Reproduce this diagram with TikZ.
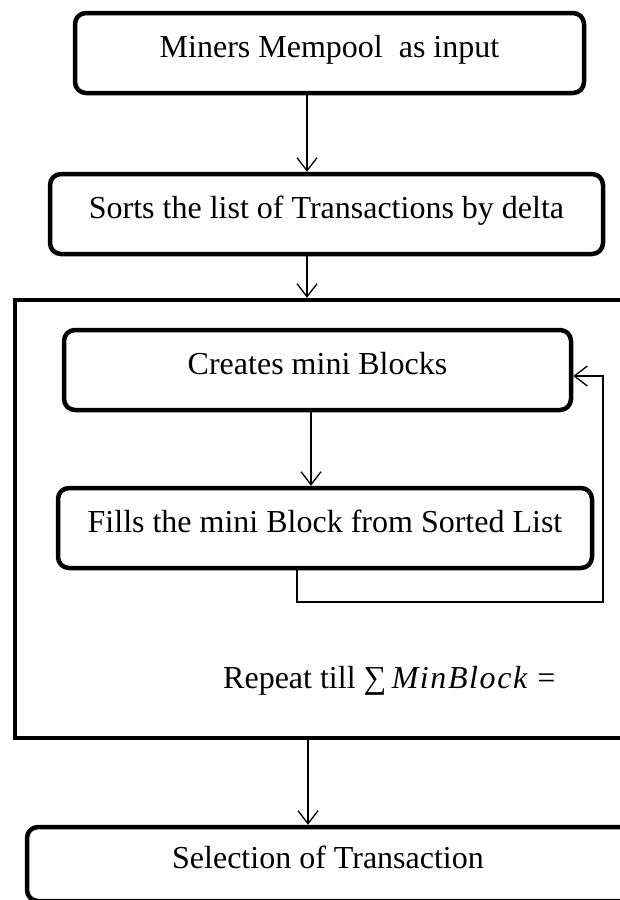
\documentclass[tikz,border=0pt]{standalone}
\usepackage{fontspec}
\setmainfont{Liberation Serif}
\usetikzlibrary{arrows.meta}
\begin{document}
\begin{tikzpicture}[x=1pt,y=-1pt,
  stepbox/.style={draw, line width=4.5pt, rounded corners=11pt, minimum height=80pt,
    inner sep=0pt, text height=22pt, text depth=14pt, font=\fontsize{32}{38}\selectfont},
  frame/.style={draw, line width=4.5pt, inner sep=0pt},
  label text/.style={font=\fontsize{32}{38}\selectfont, inner sep=0pt},
  flow/.style={line width=1.3pt, -{Straight Barb[length=13pt,width=20pt,line width=1.3pt]}},
  link/.style={line width=1.3pt},
]
\useasboundingbox (0,0) rectangle (620,900);
\clip (0,0) rectangle (620,900);

% process steps
\node[stepbox, minimum width=509pt] (input) at (329.5,53) {Miners Mempool\ \ as input};
\node[stepbox, minimum width=553pt] (sort) at (326.5,214) {Sorts the list of Transactions by delta};

% loop frame with its two inner steps
\node[frame, minimum width=635pt, minimum height=438pt] (loop) at (332.5,519) {};
\node[stepbox, minimum width=507pt] (create) at (317.5,370) {Creates mini Blocks};
\node[stepbox, minimum width=534pt] (fill) at (325,528) {Fills the mini Block from Sorted List};
\node[label text, anchor=base west] (repeat) at (223,688)
  {Repeat till ∑\,\textit{\addfontfeature{LetterSpace=5}MinBlock} =};

% final step
\node[stepbox, minimum width=618pt, minimum height=74pt] (select) at (336,864) {};
\node[label text, anchor=base] (seltext) at (328,868) {Selection of Transaction};

% connector columns
\coordinate (c1) at (307,0);
\coordinate (c3) at (311,0);
\coordinate (c4) at (308,0);
\coordinate (back) at (297,602);
\coordinate (turn) at (603,376);

\draw[flow] (input.south -| c1) -- (sort.north -| c1);
\draw[flow] (sort.south -| c1) -- (loop.north -| c1);
\draw[flow] (create.south -| c3) -- (fill.north -| c3);
\draw[flow] (fill.south -| back) -- (back) -| (turn) -- (create.east |- turn);
\draw[flow] (loop.south -| c4) -- (select.north -| c4);
\end{tikzpicture}
\end{document}
